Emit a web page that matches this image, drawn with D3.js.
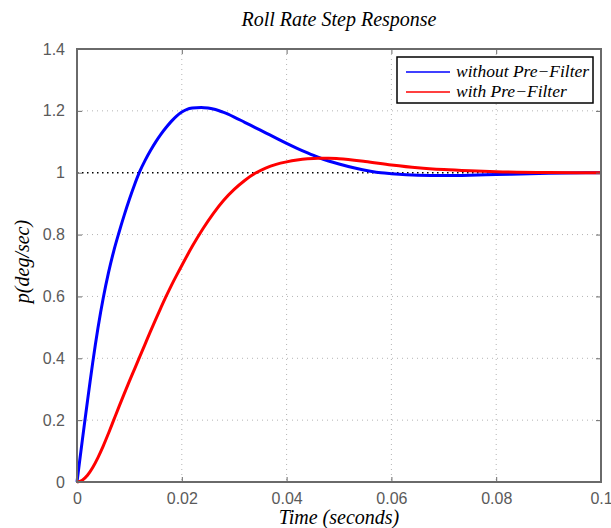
<!DOCTYPE html>
<html>
<head>
<meta charset="utf-8">
<script src="https://cdn.jsdelivr.net/npm/d3@7"></script>
<style>
  body { margin: 0; background: #fff; }
  svg { display: block; }
</style>
</head>
<body>
<div id="chart"></div>
<script>
// Step response samples (time in seconds)
var blueTime = [0, 0.0005, 0.001, 0.0015, 0.002, 0.0025, 0.003, 0.0035, 0.004, 0.0045, 0.005, 0.006, 0.007,
  0.008, 0.009, 0.010, 0.011, 0.012, 0.013, 0.014, 0.015, 0.016, 0.017, 0.018, 0.019, 0.020, 0.021, 0.022,
  0.0237, 0.025, 0.026, 0.027, 0.028, 0.030, 0.032, 0.034, 0.036, 0.038, 0.040, 0.042, 0.044, 0.046,
  0.048, 0.050, 0.053, 0.056, 0.058, 0.060, 0.065, 0.070, 0.075, 0.080, 0.090, 0.100]
var blueValue = [0, 0.067, 0.133, 0.198, 0.262, 0.325, 0.386, 0.444, 0.498, 0.548, 0.594, 0.676, 0.746,
  0.806, 0.862, 0.914, 0.962, 1.005, 1.040, 1.071, 1.099, 1.124, 1.146, 1.166, 1.183, 1.196, 1.205, 1.209,
  1.211, 1.209, 1.206, 1.201, 1.195, 1.180, 1.163, 1.146, 1.129, 1.112, 1.095, 1.079, 1.064, 1.050,
  1.038, 1.028, 1.015, 1.005, 1.000, 0.997, 0.992, 0.991, 0.992, 0.994, 0.998, 1.0]

var redTime = [0, 0.001, 0.002, 0.003, 0.004, 0.005, 0.006, 0.007, 0.008, 0.009, 0.010, 0.011, 0.012,
  0.013, 0.014, 0.015, 0.016, 0.017, 0.018, 0.019, 0.020, 0.022, 0.024, 0.026, 0.028, 0.030, 0.032,
  0.034, 0.036, 0.038, 0.040, 0.042, 0.044, 0.046, 0.048, 0.050, 0.055, 0.060, 0.065, 0.070, 0.075,
  0.080, 0.090, 0.100]
var redValue = [0, 0.006, 0.022, 0.047, 0.079, 0.116, 0.157, 0.200, 0.243, 0.285, 0.326, 0.366, 0.406,
  0.446, 0.486, 0.525, 0.563, 0.600, 0.635, 0.668, 0.700, 0.762, 0.818, 0.868, 0.911, 0.946, 0.975,
  0.998, 1.015, 1.027, 1.035, 1.041, 1.045, 1.047, 1.047, 1.045, 1.036, 1.025, 1.016, 1.010, 1.006,
  1.003, 1.0005, 1.0]

var xTicks = [0, 0.02, 0.04, 0.06, 0.08, 0.1]
var xTickLabels = ['0', '0.02', '0.04', '0.06', '0.08', '0.1']
var yTicks = [0, 0.2, 0.4, 0.6, 0.8, 1, 1.2, 1.4]
var yTickLabels = ['0', '0.2', '0.4', '0.6', '0.8', '1', '1.2', '1.4']

var seriesNames = ['without Pre\u2212Filter', 'with Pre\u2212Filter']
var seriesColors = ['#0000ff', '#ff0000']

var width = 611
var height = 528
var margin = { top: 49, right: 10, bottom: 46, left: 77 }
var plotW = width - margin.left - margin.right
var plotH = height - margin.top - margin.bottom

var svg = d3.select('#chart').append('svg')
  .attr('width', width)
  .attr('height', height)

var x = d3.scaleLinear().domain([0, 0.1]).range([0, plotW])
var y = d3.scaleLinear().domain([0, 1.4]).range([plotH, 0])

var g = svg.append('g')
  .attr('transform', 'translate(' + margin.left + ',' + margin.top + ')')

// Grid lines (dotted)
g.selectAll('.vgrid')
  .data(xTicks.slice(1, -1))
  .enter().append('line')
  .attr('x1', function (d) { return x(d) })
  .attr('x2', function (d) { return x(d) })
  .attr('y1', 0)
  .attr('y2', plotH)
  .attr('stroke', '#b4b4b4')
  .attr('stroke-width', 1)
  .attr('stroke-dasharray', '1,4')

g.selectAll('.hgrid')
  .data(yTicks.slice(1, -1).filter(function (d) { return d !== 1 }))
  .enter().append('line')
  .attr('x1', 0)
  .attr('x2', plotW)
  .attr('y1', function (d) { return y(d) })
  .attr('y2', function (d) { return y(d) })
  .attr('stroke', '#b4b4b4')
  .attr('stroke-width', 1)
  .attr('stroke-dasharray', '1,4')

// Steady state reference line at 1
g.append('line')
  .attr('x1', 0)
  .attr('x2', plotW)
  .attr('y1', y(1))
  .attr('y2', y(1))
  .attr('stroke', '#000')
  .attr('stroke-width', 1.5)
  .attr('stroke-dasharray', '1.5,3.5')

// Curves
var line = d3.line()
  .x(function (d) { return x(d[0]) })
  .y(function (d) { return y(d[1]) })
  .curve(d3.curveMonotoneX)

var blueData = d3.zip(blueTime, blueValue)
var redData = d3.zip(redTime, redValue)

g.append('path')
  .datum(blueData)
  .attr('d', line)
  .attr('fill', 'none')
  .attr('stroke', seriesColors[0])
  .attr('stroke-width', 3)

g.append('path')
  .datum(redData)
  .attr('d', line)
  .attr('fill', 'none')
  .attr('stroke', seriesColors[1])
  .attr('stroke-width', 3)

// Axes (ticks pointing inward)
var tickColor = '#6a6a6a'
g.append('g')
  .attr('transform', 'translate(0,' + plotH + ')')
  .call(d3.axisBottom(x).tickValues(xTicks)
    .tickFormat(function (d, i) { return xTickLabels[i] })
    .tickSizeInner(-5).tickSizeOuter(0).tickPadding(11))
g.append('g')
  .call(d3.axisLeft(y).tickValues(yTicks)
    .tickFormat(function (d, i) { return yTickLabels[i] })
    .tickSizeInner(-5).tickSizeOuter(0).tickPadding(12))
g.append('g')
  .call(d3.axisTop(x).tickValues(xTicks).tickFormat('').tickSizeInner(-5).tickSizeOuter(0))
g.append('g')
  .attr('transform', 'translate(' + plotW + ',0)')
  .call(d3.axisRight(y).tickValues(yTicks).tickFormat('').tickSizeInner(-5).tickSizeOuter(0))

g.selectAll('.domain').remove()
g.selectAll('.tick line').attr('stroke', tickColor)
g.selectAll('.tick text')
  .attr('fill', '#5a5a5a')
  .style('font-family', '"Liberation Sans", Arial, sans-serif')
  .style('font-size', '16px')

// Frame
g.append('rect')
  .attr('x', 0)
  .attr('y', 0)
  .attr('width', plotW)
  .attr('height', plotH)
  .attr('fill', 'none')
  .attr('stroke', tickColor)
  .attr('stroke-width', 2)

// Legend
var serif = '"Liberation Serif", "Times New Roman", serif'
var legend = g.append('g')
  .attr('transform', 'translate(' + (plotW - 204) + ',8)')
legend.append('rect')
  .attr('width', 196)
  .attr('height', 46)
  .attr('fill', '#fff')
  .attr('stroke', '#000')
  .attr('stroke-width', 1.5)
seriesNames.forEach(function (name, i) {
  var ly = 15 + i * 20
  legend.append('line')
    .attr('x1', 9)
    .attr('x2', 53)
    .attr('y1', ly)
    .attr('y2', ly)
    .attr('stroke', seriesColors[i])
    .attr('stroke-width', 1.5)
  legend.append('text')
    .attr('x', 59)
    .attr('y', ly + 5)
    .style('font-family', serif)
    .style('font-style', 'italic')
    .style('font-size', '17.5px')
    .text(name)
})

// Titles
svg.append('text')
  .attr('x', margin.left + plotW / 2)
  .attr('y', 26)
  .attr('text-anchor', 'middle')
  .style('font-family', serif)
  .style('font-style', 'italic')
  .style('font-size', '20px')
  .text('Roll Rate Step Response')

svg.append('text')
  .attr('x', margin.left + plotW / 2)
  .attr('y', 524)
  .attr('text-anchor', 'middle')
  .style('font-family', serif)
  .style('font-style', 'italic')
  .style('font-size', '20px')
  .text('Time (seconds)')

svg.append('text')
  .attr('transform', 'translate(29,' + (margin.top + plotH / 2 - 4) + ')rotate(-90)')
  .attr('text-anchor', 'middle')
  .style('font-family', serif)
  .style('font-style', 'italic')
  .style('font-size', '20px')
  .text('p(deg/sec)')
</script>
</body>
</html>
